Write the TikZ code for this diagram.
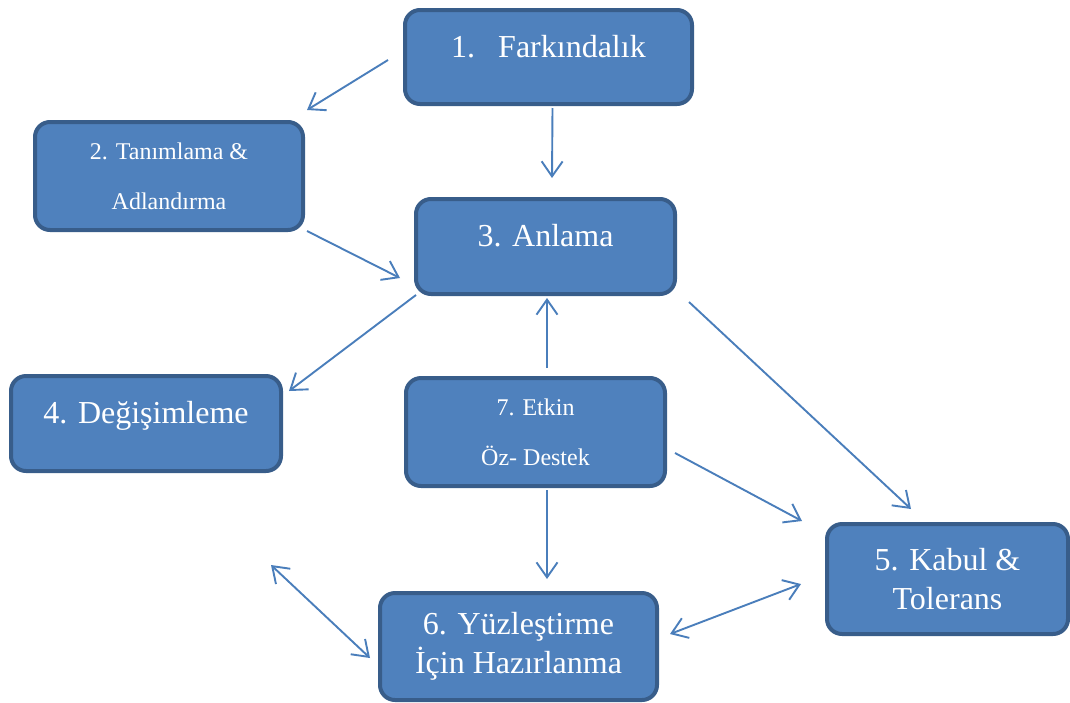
\documentclass[tikz,border=0pt]{standalone}
\usepackage{fontspec}
\setmainfont{Liberation Serif}
\usetikzlibrary{arrows.meta,calc}

\definecolor{boxfill}{HTML}{4F81BD}
\definecolor{boxline}{HTML}{385D8A}
\definecolor{arrline}{HTML}{4A7EBB}

\tikzset{
  stage/.style={rectangle, rounded corners=15pt, draw=boxline, fill=boxfill, line width=4pt, text=white, inner sep=0pt},
  oneline/.style={text height=21pt, text depth=21pt, font=\fontsize{32}{38}\selectfont},
  twoline/.style={align=center, font=\fontsize{32}{39}\selectfont},
  smallline/.style={align=center, font=\fontsize{24}{50}\selectfont},
  flow/.style={draw=arrline, line width=1.9pt, >={Straight Barb[length=15pt,width=21pt]}, ->},
  both/.style={flow, <->}
}

\begin{document}
\begin{tikzpicture}[x=1pt, y=-1pt]
  \useasboundingbox (0,0) rectangle (1070,702);

  % stages
  \node[stage, oneline, minimum width=287pt, minimum height=94pt] (far) at (548.5,57) {1.\hspace{23pt}Farkındalık\hspace{40pt}};
  \node[stage, smallline, minimum width=268pt, minimum height=108pt] (tan) at (169,176) {2. Tanımlama \&\\Adlandırma};
  \node[stage, oneline, minimum width=259pt, minimum height=95pt] (anl) at (545.5,246.5) {3. Anlama};
  \node[stage, oneline, minimum width=270pt, minimum height=95pt] (deg) at (146,423.5) {4. Değişimleme};
  \node[stage, smallline, minimum width=259pt, minimum height=108pt] (etk) at (535.5,432) {7. Etkin\\Öz- Destek};
  \node[stage, twoline, minimum width=241pt, minimum height=110pt] (kab) at (947.5,579) {5. Kabul \&\\Tolerans};
  \node[stage, twoline, minimum width=277pt, minimum height=107pt] (yuz) at (518.5,646.5) {6. Yüzleştirme\\İçin Hazırlanma};

  \coordinate (loose) at (271,565);

  % arrows
  \draw[flow] ($(far.west)+(-15,3)$) -- ($(tan.north east)+(2,-10)$);
  \draw[flow] ($(far.south)+(4,2)$) -- ($(anl.north)+(6.5,-19)$);
  \draw[flow] ($(tan.south east)+(2,-1)$) -- ($(anl.west)+(-14,31.5)$);
  \draw[flow] ($(anl.south west)+(2,-1)$) -- ($(deg.north east)+(6,17)$);
  \draw[flow] ($(etk.north)+(11.5,-8)$) -- ($(anl.south)+(1.5,2)$);
  \draw[flow] ($(anl.south east)+(12,6)$) -- ($(kab.north)+(-36.5,-13)$);
  \draw[flow] ($(etk.east)+(8,21)$) -- ($(kab.north west)+(-23,-1)$);
  \draw[flow] ($(etk.south)+(11.5,2)$) -- ($(yuz.north)+(28.5,-12)$);
  \draw[both] ($(yuz.east)+(11,-12.5)$) -- ($(kab.west)+(-24,5)$);
  \draw[both] (loose) -- ($(yuz.west)+(-8,11.5)$);
\end{tikzpicture}
\end{document}
